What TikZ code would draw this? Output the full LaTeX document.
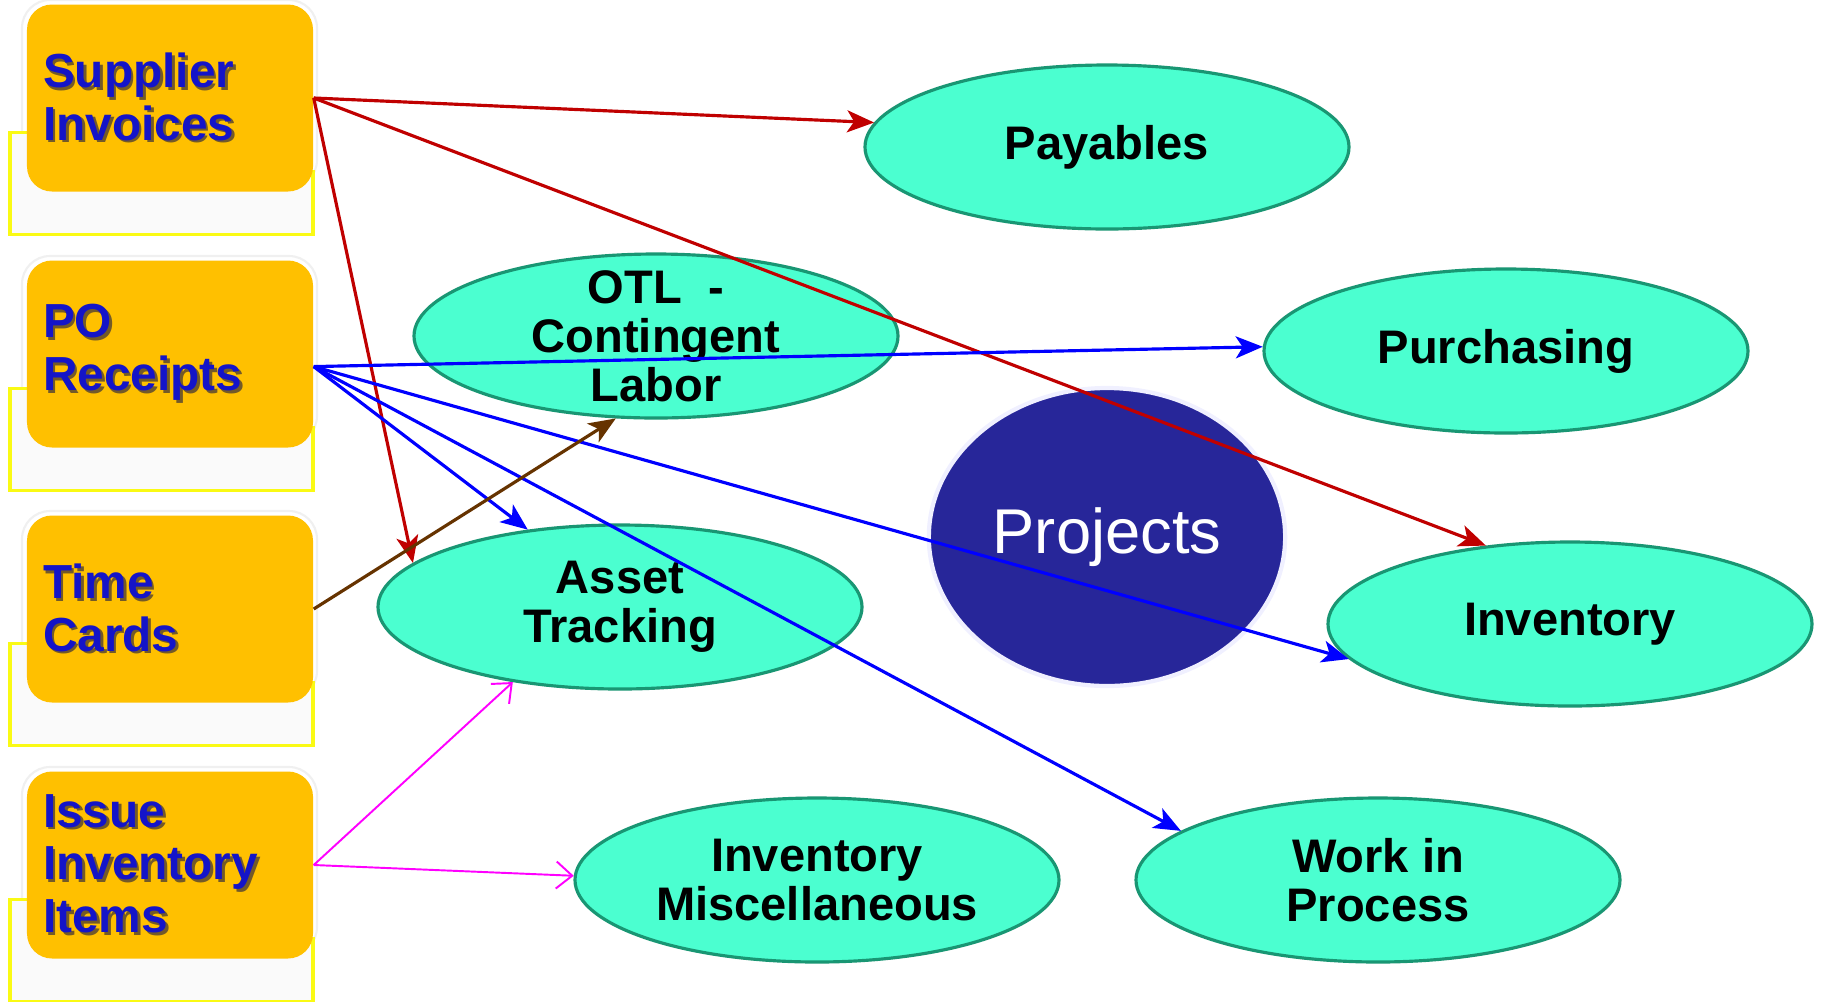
\documentclass[tikz,border=0pt]{standalone}
\usepackage{fontspec}
\setsansfont{Liberation Sans}
\usetikzlibrary{arrows.meta,backgrounds,shapes.geometric}

\definecolor{boxorange}{RGB}{255,192,0}
\definecolor{boxtext}{RGB}{20,20,200}
\definecolor{boxshadow}{RGB}{115,90,40}
\definecolor{brackyellow}{RGB}{250,250,20}
\definecolor{aqua}{RGB}{75,255,208}
\definecolor{aquaedge}{RGB}{25,150,115}
\definecolor{spokegreen}{RGB}{40,165,135}
\definecolor{projblue}{RGB}{39,38,153}
\definecolor{arrred}{RGB}{192,0,0}
\definecolor{arrblue}{RGB}{0,0,255}
\definecolor{arrbrown}{RGB}{102,51,0}
\definecolor{arrmagenta}{RGB}{255,0,255}

% text with a small drop shadow
\newcommand{\shadowed}[1]{\leavevmode\rlap{\kern0.8pt\raisebox{-0.8pt}{\textcolor{boxshadow}{#1}}}#1}

\begin{document}
\begin{tikzpicture}[x=1cm,y=1cm,
	srcbox/.style={rectangle,rounded corners=0.25cm,fill=boxorange,minimum width=2.86cm,minimum height=1.87cm,
		text width=2.54cm,inner xsep=0.16cm,align=left,text=boxtext,font=\sffamily\bfseries\fontsize{13.6}{15}\selectfont},
	module/.style={ellipse,draw=aquaedge,line width=0.9pt,fill=aqua,minimum width=4.84cm,minimum height=1.64cm,
		inner sep=0pt,align=center,font=\sffamily\bfseries\fontsize{13.4}{13.9}\selectfont},
	spoke/.style={spokegreen,line width=1.4pt},
	feed/.style={line width=0.9pt,-{Stealth[length=0.27cm,width=0.22cm,inset=0.07cm]}},
	issue/.style={arrmagenta,line width=0.55pt,-{Straight Barb[length=0.16cm,width=0.27cm]}}]
	\useasboundingbox (0,0) rectangle (18.24,-10.01);
	\fill[white] (0,0) rectangle (18.24,-10.01);

	% sources: backdrop and yellow bracket
	\foreach \c in {0.98,3.54,6.09,8.65}{
		\draw[black!6,line width=0.6pt,fill=white,rounded corners=0.28cm] (0.22,-\c+0.98) rectangle (3.17,-\c-0.9);
		\fill[black!2] (0.10,-\c-0.345) rectangle (3.13,-\c-1.365);
		\draw[brackyellow,line width=1.1pt] (0.27,-\c-0.345) -- (0.10,-\c-0.345) -- (0.10,-\c-1.365) -- (3.13,-\c-1.365) -- (3.13,-\c-0.715);
	}
	\node[srcbox] (sup) at (1.70,-0.98) {\shadowed{Supplier}\\\shadowed{Invoices}};
	\node[srcbox] (po) at (1.70,-3.54) {\shadowed{PO}\\\shadowed{Receipts}};
	\node[srcbox] (tc) at (1.70,-6.09) {\shadowed{Time}\\\shadowed{Cards}};
	\node[srcbox] (iss) at (1.70,-8.65) {\shadowed{Issue}\\\shadowed{Inventory}\\\shadowed{Items}};

	% modules round the hub
	\node[module] (pay) at (11.07,-1.47) {Payables};
	\node[module,inner ysep=-0.18cm] (otl) at (6.56,-3.36) {OTL~~-\\Contingent\\Labor};
	\node[module] (pur) at (15.06,-3.51) {Purchasing};
	\node[module] (ast) at (6.20,-6.07) {Asset\\Tracking};
	\node[module] (inv) at (15.70,-6.24) {Inventory};
	\node[module] (ivm) at (8.17,-8.80) {Inventory\\Miscellaneous};
	\node[module] (wip) at (13.78,-8.80) {Work in\\Process};
	\node[ellipse,fill=projblue,draw=white!94!blue,line width=1.2pt,minimum width=3.42cm,minimum height=2.98cm,
		text=white,font=\sffamily\fontsize{18}{22}\selectfont] (proj) at (11.07,-5.37) {Projects};

	\begin{scope}[on background layer]
		\foreach \m in {pay,otl,pur,ast,inv,ivm,wip}
			\draw[spoke] (proj.center) -- (\m.center);
	\end{scope}

	% feeds
	\draw[feed,arrred] (sup.east) -- (pay.174);
	\draw[feed,arrred] (sup.east) -- (inv.137);
	\draw[feed,arrred] (sup.east) -- (ast.168);
	\draw[feed,arrblue] (po.-5) -- (pur.179);
	\draw[feed,arrblue] (po.-5) -- (ast.140);
	\draw[feed,arrblue] (po.-5) -- (inv.189);
	\draw[feed,arrblue] (po.-5) -- (wip.166);
	\draw[feed,arrbrown] (tc.east) -- (otl.244);
	\draw[issue] (iss.east) -- (ast.215);
	\draw[issue] (iss.east) -- (ivm.179);
\end{tikzpicture}
\end{document}
